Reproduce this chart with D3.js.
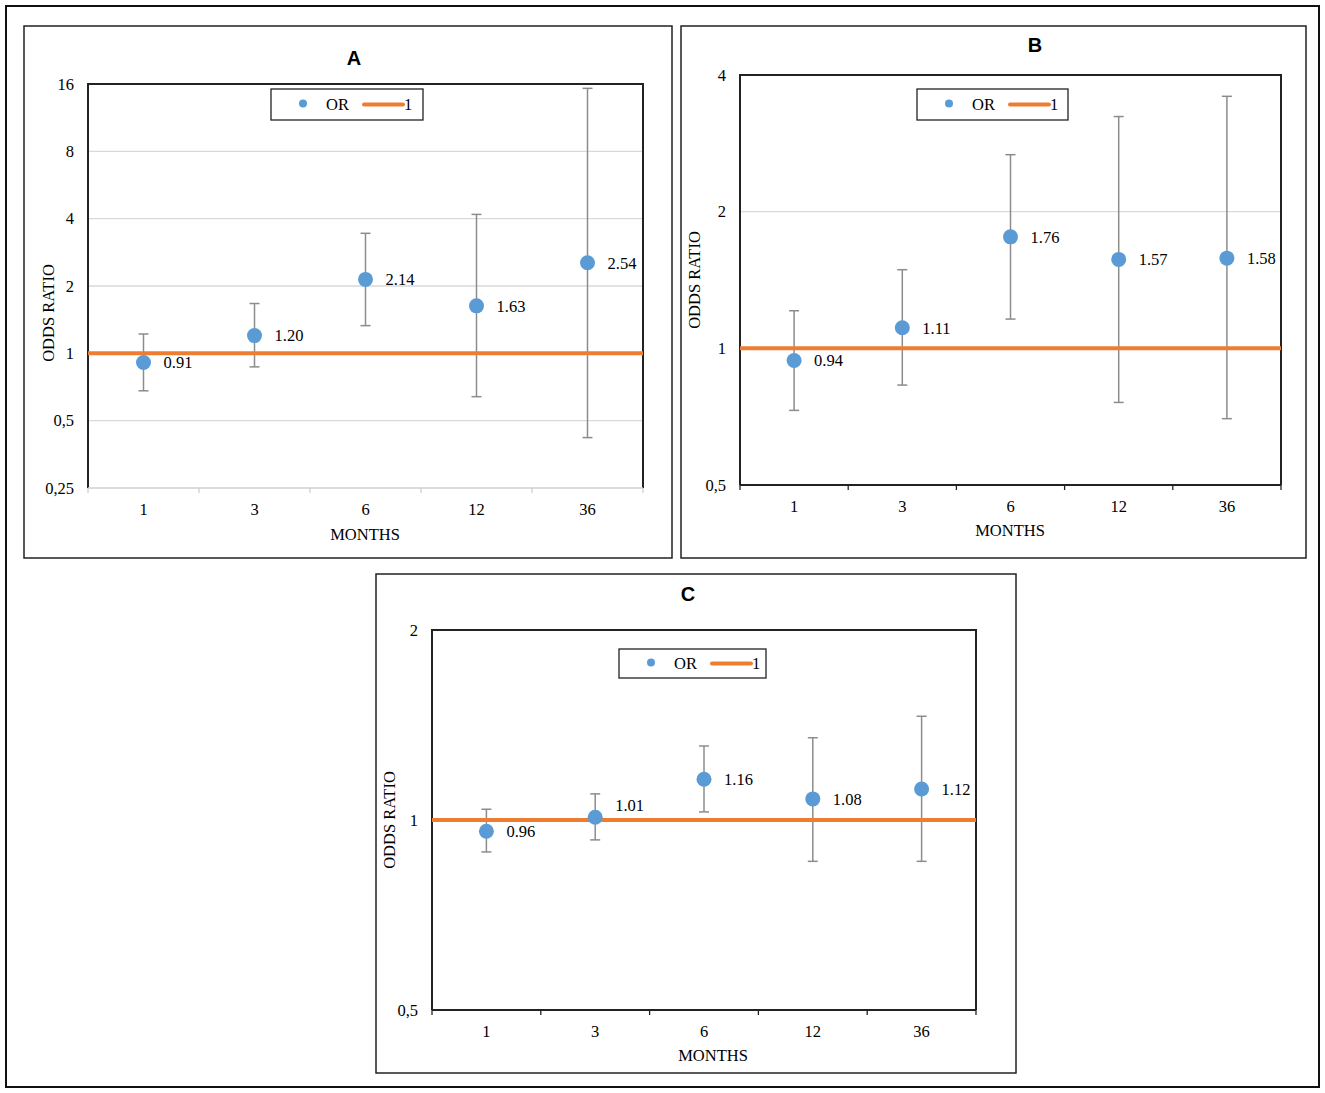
<!DOCTYPE html>
<meta charset="utf-8">
<style>
  body { margin: 0; background: #fff; }
  svg text { font-family: "Liberation Serif", "Times New Roman", serif; fill: #000; }
  .title { font-family: "Liberation Sans", Arial, sans-serif; font-weight: bold; font-size: 20px; }
</style>
<svg width="1325" height="1093"></svg>
<script src="https://d3js.org/d3.v7.min.js"></script>
<script>

// categories
var months = ["1", "3", "6", "12", "36"];

// panel A
var orA   = [0.91, 1.20, 2.14, 1.63, 2.54];
var lowA  = [0.68, 0.87, 1.33, 0.64, 0.42];
var highA = [1.22, 1.67, 3.44, 4.18, 15.3];
var ticksA = [0.25, 0.5, 1, 2, 4, 8, 16];
var tickLabelsA = ["0,25", "0,5", "1", "2", "4", "8", "16"];

// panel B
var orB   = [0.94, 1.11, 1.76, 1.57, 1.58];
var lowB  = [0.73, 0.83, 1.16, 0.76, 0.70];
var highB = [1.21, 1.49, 2.67, 3.24, 3.59];
var ticksB = [0.5, 1, 2, 4];
var tickLabelsB = ["0,5", "1", "2", "4"];

// panel C
var orC   = [0.96, 1.01, 1.16, 1.08, 1.12];
var lowC  = [0.89, 0.93, 1.03, 0.86, 0.86];
var highC = [1.04, 1.10, 1.31, 1.35, 1.46];
var ticksC = [0.5, 1, 2];
var tickLabelsC = ["0,5", "1", "2"];

var fs = "16.5px";
var svg = d3.select("svg");

// outer frame
svg.append("rect").attr("x", 6).attr("y", 6).attr("width", 1313).attr("height", 1081)
    .attr("fill", "none").attr("stroke", "#111").attr("stroke-width", 2);

var panels = [
  {name: "A", box: [24, 26, 648, 532], plot: [88, 84, 643, 488], or: orA, low: lowA, high: highA,
   ticks: ticksA, labels: tickLabelsA, legend: [271, 89, 152, 31], yLab: [48, 313], xLab: [365, 534],
   title: [354, 58], greyBottom: true},
  {name: "B", box: [681, 26, 625, 532], plot: [740, 75, 1281, 485], or: orB, low: lowB, high: highB,
   ticks: ticksB, labels: tickLabelsB, legend: [917, 89, 151, 31], yLab: [694, 280], xLab: [1010, 530],
   title: [1035, 45], greyBottom: false},
  {name: "C", box: [376, 574, 640, 499], plot: [432, 630, 976, 1010], or: orC, low: lowC, high: highC,
   ticks: ticksC, labels: tickLabelsC, legend: [619, 649, 147, 29], yLab: [389, 820], xLab: [713, 1055],
   title: [688, 594], greyBottom: false}
];

panels.forEach(function(p) {
  var g = svg.append("g");
  var x0 = p.plot[0], y0 = p.plot[1], x1 = p.plot[2], y1 = p.plot[3];

  g.append("rect").attr("x", p.box[0]).attr("y", p.box[1]).attr("width", p.box[2]).attr("height", p.box[3])
      .attr("fill", "#fff").attr("stroke", "#222").attr("stroke-width", 1.5);

  var x = d3.scaleBand().domain(months).range([x0, x1]);
  var y = d3.scaleLog().base(2).domain([p.ticks[0], p.ticks[p.ticks.length - 1]]).range([y1, y0]);

  // gridlines
  g.selectAll(".grid").data(p.ticks.slice(1, -1)).enter().append("line")
      .attr("x1", x0).attr("x2", x1)
      .attr("y1", function(d) { return y(d); }).attr("y2", function(d) { return y(d); })
      .attr("stroke", "#d9d9d9").attr("stroke-width", 1.3);

  // plot frame (top, left, right dark)
  g.append("path").attr("d", "M" + x0 + "," + y1 + "V" + y0 + "H" + x1 + "V" + y1)
      .attr("fill", "none").attr("stroke", "#222").attr("stroke-width", 2);

  // x axis
  var axisCol = p.greyBottom ? "#d0d0d0" : "#222";
  g.append("line").attr("x1", x0).attr("x2", x1).attr("y1", y1).attr("y2", y1)
      .attr("stroke", axisCol).attr("stroke-width", p.greyBottom ? 1.3 : 2);
  var bounds = months.map(function(m) { return x(m); }).concat([x1]);
  g.selectAll(".xt").data(bounds).enter().append("line")
      .attr("x1", function(d) { return d; }).attr("x2", function(d) { return d; })
      .attr("y1", y1).attr("y2", y1 + 5)
      .attr("stroke", axisCol).attr("stroke-width", 1.3);
  g.selectAll(".xl").data(months).enter().append("text")
      .attr("x", function(d) { return x(d) + x.bandwidth() / 2; })
      .attr("y", y1 + 21)
      .attr("dy", "0.35em")
      .attr("text-anchor", "middle").style("font-size", fs)
      .text(function(d) { return d; });

  // y tick labels
  g.selectAll(".yl").data(p.ticks).enter().append("text")
      .attr("x", x0 - 14)
      .attr("y", function(d) { return y(d); })
      .attr("dy", "0.35em")
      .attr("text-anchor", "end").style("font-size", fs)
      .text(function(d, i) { return p.labels[i]; });

  // axis titles
  g.append("text").attr("transform", "translate(" + p.yLab[0] + "," + p.yLab[1] + ") rotate(-90)")
      .attr("dy", "0.35em").attr("text-anchor", "middle").style("font-size", fs).text("ODDS RATIO");
  g.append("text").attr("x", p.xLab[0]).attr("y", p.xLab[1]).attr("dy", "0.35em")
      .attr("text-anchor", "middle").style("font-size", fs).text("MONTHS");

  // title
  g.append("text").attr("class", "title").attr("x", p.title[0])
      .attr("y", p.title[1]).attr("dy", "0.35em").attr("text-anchor", "middle").text(p.name);

  // error bars
  var cx = function(i) { return x(months[i]) + x.bandwidth() / 2; };
  var eb = g.selectAll(".eb").data(p.or).enter().append("g");
  eb.append("line")
      .attr("x1", function(d, i) { return cx(i); }).attr("x2", function(d, i) { return cx(i); })
      .attr("y1", function(d, i) { return y(p.low[i]); }).attr("y2", function(d, i) { return y(p.high[i]); })
      .attr("stroke", "#8c8c8c").attr("stroke-width", 1.5);
  eb.append("line")
      .attr("x1", function(d, i) { return cx(i) - 5; }).attr("x2", function(d, i) { return cx(i) + 5; })
      .attr("y1", function(d, i) { return y(p.low[i]); }).attr("y2", function(d, i) { return y(p.low[i]); })
      .attr("stroke", "#8c8c8c").attr("stroke-width", 1.5);
  eb.append("line")
      .attr("x1", function(d, i) { return cx(i) - 5; }).attr("x2", function(d, i) { return cx(i) + 5; })
      .attr("y1", function(d, i) { return y(p.high[i]); }).attr("y2", function(d, i) { return y(p.high[i]); })
      .attr("stroke", "#8c8c8c").attr("stroke-width", 1.5);

  // reference line at 1
  g.append("line").attr("x1", x0).attr("x2", x1).attr("y1", y(1)).attr("y2", y(1))
      .attr("stroke", "#ed7d31").attr("stroke-width", 4);

  // points and labels
  g.selectAll(".pt").data(p.or).enter().append("circle")
      .attr("cx", function(d, i) { return cx(i); })
      .attr("cy", function(d) { return y(d); })
      .attr("r", 7.5).attr("fill", "#5b9bd5");
  g.selectAll(".pl").data(p.or).enter().append("text")
      .attr("x", function(d, i) { return cx(i) + 20; })
      .attr("y", function(d) {
        // lift labels that would sit on the reference line
        return Math.abs(y(d) - y(1)) < 8 ? y(d) - 12 : y(d);
      })
      .attr("dy", "0.35em").style("font-size", fs)
      .text(function(d) { return d.toFixed(2); });

  // legend
  var L = p.legend;
  g.append("rect").attr("x", L[0]).attr("y", L[1]).attr("width", L[2]).attr("height", L[3])
      .attr("fill", "#fff").attr("stroke", "#222").attr("stroke-width", 1.3);
  var ly = L[1] + L[3] / 2;
  g.append("circle").attr("cx", L[0] + 32).attr("cy", ly - 1).attr("r", 4).attr("fill", "#5b9bd5");
  g.append("text").attr("x", L[0] + 55).attr("y", ly).attr("dy", "0.35em").style("font-size", fs).text("OR");
  g.append("line").attr("x1", L[0] + 93).attr("x2", L[0] + 132).attr("y1", ly).attr("y2", ly)
      .attr("stroke", "#ed7d31").attr("stroke-width", 4).attr("stroke-linecap", "round");
  g.append("text").attr("x", L[0] + 133).attr("y", ly).attr("dy", "0.35em").style("font-size", fs).text("1");
});

</script>
